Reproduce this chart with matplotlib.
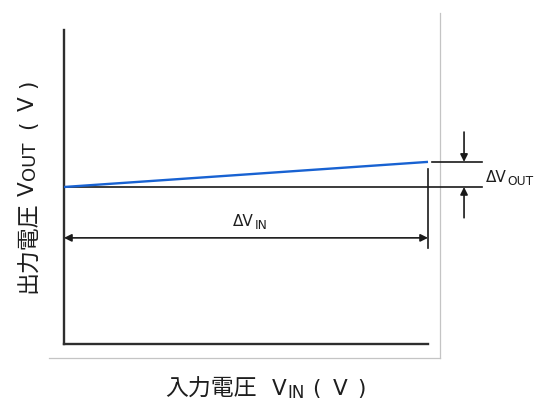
import matplotlib
matplotlib.use("Agg")
import matplotlib.pyplot as plt
from matplotlib.lines import Line2D
from matplotlib.transforms import IdentityTransform

# data
x_in = [0.0, 10.0]          # input voltage range (arbitrary units)
v_out = [5.0, 5.8]          # output voltage at start / end

W, H = 536, 403
fig = plt.figure(figsize=(W / 100, H / 100), dpi=100)
ax = fig.add_axes([64 / W, 1 - 344 / H, (428 - 64) / W, (344 - 30) / H])
ax.set_xlim(0, 10)
ax.set_ylim(0, 10)
for s in ['top', 'right']:
    ax.spines[s].set_visible(False)
for s in ['left', 'bottom']:
    ax.spines[s].set_color('#2e2e2e')
    ax.spines[s].set_linewidth(1.7)
ax.set_xticks([])
ax.set_yticks([])
ax.patch.set_alpha(0)

# grey frame
ax.add_line(Line2D([10.33, 10.33], [-0.45, 10.54], color='#c4c4c4', lw=0.9, clip_on=False))
ax.add_line(Line2D([-0.41, 10.33], [-0.45, -0.45], color='#c4c4c4', lw=0.9, clip_on=False))

blk = dict(color='#1a1a1a', lw=1.2, clip_on=False)
ax.add_line(Line2D([x_in[0], 11.48], [v_out[0], v_out[0]], **blk))
ax.add_line(Line2D([10.11, 11.48], [v_out[1], v_out[1]], **blk))
ax.add_line(Line2D([x_in[1], x_in[1]], [5.57, 3.06], **blk))

# blue characteristic line
ax.plot(x_in, v_out, color='#1862d2', lw=1.7, solid_capstyle='butt', clip_on=False, zorder=3)

# delta V_IN arrow
ax.annotate('', xy=(x_in[1], 3.38), xytext=(x_in[0], 3.38),
            arrowprops=dict(arrowstyle='<|-|>', color='#1a1a1a', lw=1.2,
                            mutation_scale=11, shrinkA=0, shrinkB=0))

# delta V_OUT arrows
ax_x = 10.99
ax.annotate('', xy=(ax_x, v_out[1]), xytext=(ax_x, 6.75),
            arrowprops=dict(arrowstyle='-|>', color='#1a1a1a', lw=1.2,
                            mutation_scale=11, shrinkA=0, shrinkB=0), annotation_clip=False)
ax.annotate('', xy=(ax_x, v_out[0]), xytext=(ax_x, 4.02),
            arrowprops=dict(arrowstyle='-|>', color='#1a1a1a', lw=1.2,
                            mutation_scale=11, shrinkA=0, shrinkB=0), annotation_clip=False)

ID = IdentityTransform()
CJK = 'Noto Sans CJK JP'
LAT = 'DejaVu Sans'
TXT = '#1e1e1e'
renderer = fig.canvas.get_renderer()


def chain(pieces, start, base, rot=0):
    """pieces: (text, fontsize, family, gap_px_before, baseline_shift_px).
    Horizontal: start = left x (px), base = baseline y from top.
    Rotated 90: start = bottom y from top, base = baseline x."""
    pos = start
    for s, fs, fam, gap, shift in pieces:
        if rot == 0:
            pos += gap
            t = fig.text(pos, H - (base + shift), s, transform=ID, fontsize=fs,
                         family=fam, color=TXT, ha='left', va='baseline')
            pos += t.get_window_extent(renderer).width
        else:
            pos -= gap
            t = fig.text(base + shift, H - pos, s, transform=ID, fontsize=fs,
                         family=fam, color=TXT, ha='left', va='baseline',
                         rotation=90, rotation_mode='anchor')
            pos -= t.get_window_extent(renderer).height


# delta labels
chain([('ΔV', 11, LAT, 0, 0), ('OUT', 8.8, LAT, 0.5, 3)], 486, 182)
chain([('ΔV', 11, LAT, 0, 0), ('IN', 8.8, LAT, 0.5, 3)], 233, 226)

# x axis label: 入力電圧 V_IN ( V )
chain([('入力電圧', 16.5, CJK, 0, 1),
       ('V', 15.5, LAT, 15, 0),
       ('IN', 12, LAT, 1, 3),
       ('(', 15.5, LAT, 7, 0),
       ('V', 15.5, LAT, 13, 0),
       (')', 15.5, LAT, 10, 0)], 165, 395)

# y axis label (rotated): 出力電圧 V_OUT ( V )
chain([('出力電圧', 16.5, CJK, 0, 1),
       ('V', 15.5, LAT, 6, 0),
       ('OUT', 13, LAT, 1, 1),
       ('(', 15.5, LAT, 12, 0),
       ('V', 15.5, LAT, 10, 0),
       (')', 15.5, LAT, 8, 0)], 293, 34, rot=90)

fig.savefig('out.png', dpi=100)
